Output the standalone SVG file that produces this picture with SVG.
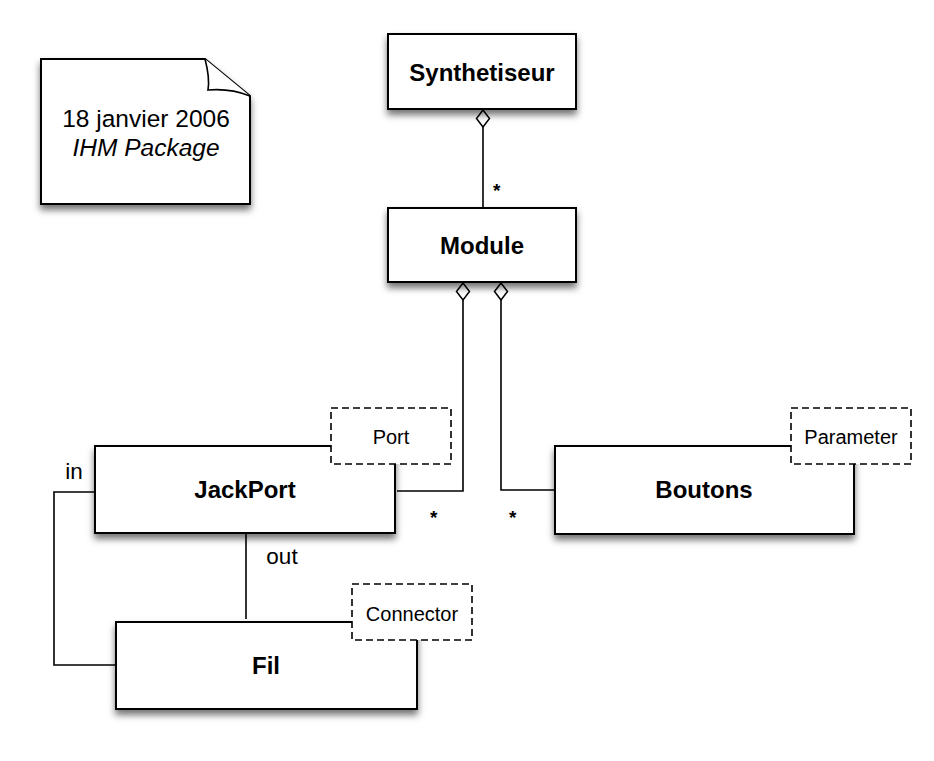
<svg xmlns="http://www.w3.org/2000/svg" width="934" height="761" viewBox="0 0 934 761">
<defs>
<filter id="sh" x="-20%" y="-20%" width="140%" height="150%">
<feDropShadow dx="0" dy="5" stdDeviation="3.5" flood-color="#000" flood-opacity="0.55"/>
</filter>
<marker id="dia" viewBox="0 0 20 16" refX="18" refY="8" markerWidth="20" markerHeight="16" markerUnits="userSpaceOnUse" orient="auto">
<path d="M1,8 L9.5,1.5 L18,8 L9.5,14.5 Z" fill="#fff" stroke="#000" stroke-width="1.5"/>
</marker>
</defs>
<style>
.box{fill:#fff;stroke:#000;stroke-width:2;filter:url(#sh)}
.tag{fill:#fff;stroke:#000;stroke-width:1.6;stroke-dasharray:7,4}
.cls{font-family:"Liberation Sans",Arial,sans-serif;font-weight:bold;font-size:24px;text-anchor:middle}
.lbl{font-family:"Liberation Sans",Arial,sans-serif;font-size:20px;text-anchor:middle}
.role{font-family:"Liberation Sans",Arial,sans-serif;font-size:22.5px;text-anchor:middle}
.note{font-family:"Liberation Sans",Arial,sans-serif;font-size:24.5px;text-anchor:middle}
.edge{fill:none;stroke:#000;stroke-width:1.6}
.mult{font-family:"Liberation Sans",Arial,sans-serif;font-size:19px;font-weight:bold}
</style>
<rect width="934" height="761" fill="#fff"/>
<g id="note">
<path d="M41,59 L205,59 L250,96 L250,204 L41,204 Z" fill="#fff" stroke="#000" stroke-width="2" filter="url(#sh)"/>
<path d="M205,59 Q210,78 208,90 Q230,88 250,96" fill="#fff" stroke="#000" stroke-width="1.6"/>
<text class="note" x="146" y="127">18 janvier 2006</text>
<text class="note" x="146" y="156" font-style="italic">IHM Package</text>
</g>
<g id="connectors">
<path class="edge" d="M483,208 L483,110" marker-end="url(#dia)"/>
<path class="edge" d="M397,491 L463,491 L463,283" marker-end="url(#dia)"/>
<path class="edge" d="M555,490 L501,490 L501,283" marker-end="url(#dia)"/>
<path class="edge" d="M95,492 L54,492 L54,665 L116,665"/>
<path class="edge" d="M246,533 L246,619"/>
<text class="mult" x="493" y="197">*</text>
<text class="mult" x="430" y="524">*</text>
<text class="mult" x="509" y="524">*</text>
<text class="role" x="74" y="479">in</text>
<text class="role" x="282" y="564">out</text>
</g>
<g id="Synthetiseur">
<rect class="box" x="388" y="34" width="188" height="75"/>
<text class="cls" x="482" y="81">Synthetiseur</text>
</g>
<g id="Module">
<rect class="box" x="388" y="208" width="188" height="74"/>
<text class="cls" x="482" y="254">Module</text>
</g>
<g id="JackPort">
<rect class="box" x="95" y="446" width="300" height="87"/>
<text class="cls" x="245" y="498">JackPort</text>
<rect class="tag" x="331" y="408" width="120" height="56"/>
<text class="lbl" x="391" y="444">Port</text>
</g>
<g id="Boutons">
<rect class="box" x="555" y="446" width="299" height="88"/>
<text class="cls" x="704" y="498">Boutons</text>
<rect class="tag" x="791" y="408" width="120" height="56"/>
<text class="lbl" x="851" y="444">Parameter</text>
</g>
<g id="Fil">
<rect class="box" x="116" y="622" width="301" height="87"/>
<text class="cls" x="266" y="674">Fil</text>
<rect class="tag" x="352" y="584" width="120" height="56"/>
<text class="lbl" x="412" y="621">Connector</text>
</g>
</svg>
